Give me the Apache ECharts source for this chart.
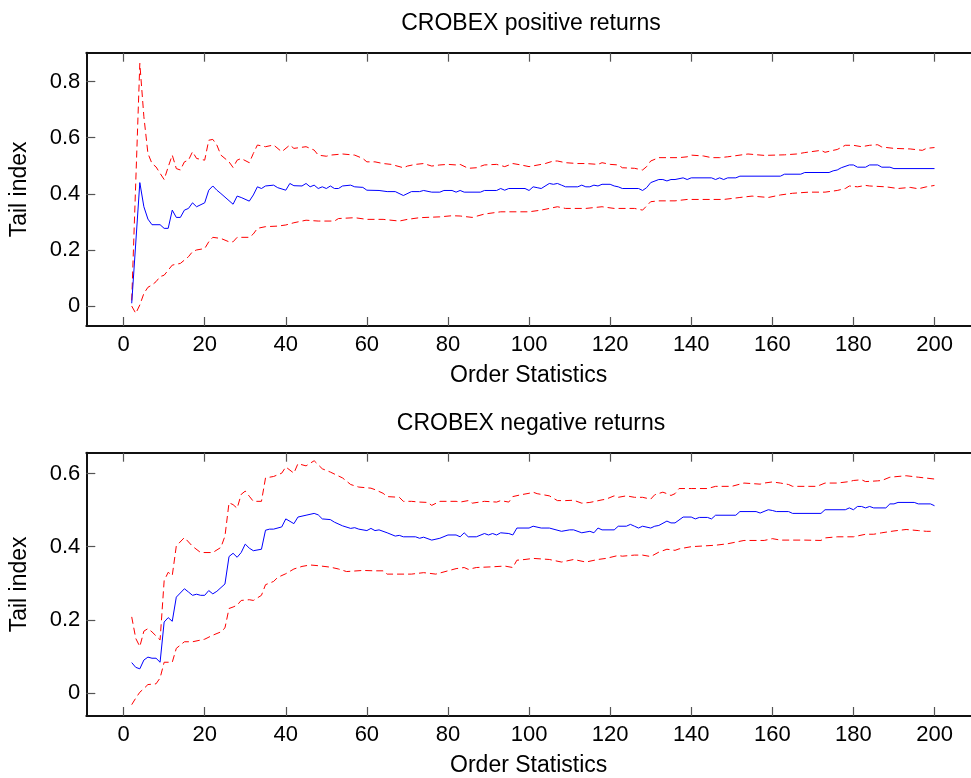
<!DOCTYPE html>
<html lang="en">
<head>
<meta charset="UTF-8" />
<title>CROBEX tail index</title>
</head>
<body>
<style>
* {
  margin: 0;
  padding: 0;
}
#chartEl {
  width: 971px;
  height: 778px;
  background-color: #fff;
}
</style>
<div id="chartEl"></div>
<script src="https://cdn.jsdelivr.net/npm/echarts@6/dist/echarts.min.js"></script>
<script>
// tick labels
const xTicks = [0, 20, 40, 60, 80, 100, 120, 140, 160, 180, 200];
const posYTicks = [0, 0.2, 0.4, 0.6, 0.8];
const negYTicks = [0, 0.2, 0.4, 0.6];

// positive returns: [order statistic, value]
const posTail = [[2,0.01],[4,0.44],[5,0.354],[6,0.31],[7,0.29],[9,0.29],[10,0.277],[11,0.277],[12,0.342],[13,0.316],[14,0.316],[15,0.342],[16,0.348],[17,0.368],[18,0.354],[20,0.368],[21,0.413],[22,0.428],[23,0.413],[24,0.401],[27,0.363],[28,0.392],[29,0.387],[31,0.374],[32,0.396],[33,0.425],[34,0.419],[35,0.428],[37,0.431],[38,0.422],[40,0.413],[41,0.437],[42,0.429],[44,0.428],[45,0.437],[46,0.425],[47,0.431],[48,0.419],[49,0.425],[50,0.419],[51,0.428],[52,0.419],[53,0.419],[54,0.428],[56,0.431],[57,0.425],[59,0.423],[60,0.413],[63,0.412],[65,0.408],[67,0.408],[69,0.394],[71,0.408],[73,0.408],[74,0.412],[76,0.406],[78,0.406],[79,0.412],[81,0.412],[82,0.406],[83,0.412],[84,0.406],[88,0.406],[89,0.412],[92,0.412],[93,0.419],[94,0.413],[95,0.419],[99,0.419],[100,0.412],[101,0.425],[102,0.422],[103,0.419],[105,0.437],[106,0.434],[107,0.437],[108,0.431],[109,0.425],[112,0.425],[113,0.431],[114,0.425],[115,0.425],[116,0.431],[117,0.428],[118,0.434],[120,0.434],[121,0.428],[122,0.425],[123,0.419],[127,0.419],[128,0.412],[129,0.422],[130,0.44],[132,0.451],[133,0.451],[134,0.446],[135,0.451],[136,0.451],[138,0.457],[139,0.451],[140,0.457],[145,0.457],[146,0.451],[147,0.457],[148,0.451],[149,0.457],[151,0.457],[152,0.463],[162,0.463],[163,0.47],[167,0.47],[168,0.476],[174,0.476],[175,0.482],[176,0.485],[177,0.493],[179,0.503],[180,0.503],[181,0.495],[183,0.495],[184,0.503],[186,0.503],[187,0.495],[189,0.495],[190,0.49],[200,0.49]];
const posUpper = [[2,0.02],[4,0.865],[5,0.675],[6,0.544],[7,0.508],[8,0.496],[9,0.473],[10,0.451],[11,0.496],[12,0.538],[13,0.49],[14,0.485],[15,0.514],[16,0.52],[17,0.55],[18,0.526],[20,0.52],[21,0.591],[22,0.594],[23,0.574],[24,0.538],[26,0.514],[27,0.494],[28,0.52],[29,0.526],[31,0.511],[32,0.544],[33,0.574],[35,0.568],[37,0.574],[39,0.55],[41,0.574],[42,0.562],[45,0.568],[47,0.556],[48,0.538],[50,0.534],[51,0.538],[54,0.542],[57,0.538],[59,0.526],[60,0.514],[62,0.514],[64,0.508],[66,0.505],[69,0.493],[70,0.499],[72,0.505],[74,0.508],[76,0.499],[78,0.503],[80,0.505],[82,0.503],[83,0.505],[85,0.491],[87,0.493],[89,0.503],[92,0.505],[94,0.497],[96,0.508],[98,0.503],[100,0.497],[103,0.505],[104,0.508],[106,0.517],[107,0.517],[109,0.511],[112,0.508],[114,0.508],[117,0.505],[118,0.511],[120,0.505],[122,0.503],[123,0.493],[126,0.491],[128,0.485],[129,0.497],[130,0.517],[132,0.529],[135,0.529],[137,0.529],[139,0.532],[140,0.538],[143,0.535],[145,0.529],[147,0.529],[149,0.532],[154,0.542],[158,0.537],[163,0.539],[166,0.542],[168,0.547],[169,0.549],[172,0.555],[173,0.548],[175,0.555],[176,0.558],[178,0.573],[180,0.573],[182,0.568],[184,0.573],[186,0.575],[187,0.567],[190,0.562],[194,0.56],[197,0.555],[198,0.562],[200,0.565]];
const posLower = [[2,0.0],[3,-0.026],[4,0.004],[5,0.045],[6,0.067],[7,0.075],[8,0.087],[9,0.105],[10,0.11],[11,0.128],[12,0.146],[14,0.152],[15,0.164],[16,0.176],[17,0.194],[18,0.2],[20,0.205],[21,0.229],[22,0.245],[24,0.241],[26,0.229],[27,0.229],[28,0.245],[31,0.245],[32,0.257],[33,0.277],[35,0.283],[38,0.285],[40,0.289],[42,0.297],[45,0.306],[48,0.303],[52,0.303],[53,0.312],[57,0.315],[60,0.309],[64,0.309],[68,0.303],[70,0.309],[73,0.315],[78,0.318],[81,0.322],[83,0.321],[86,0.316],[89,0.328],[93,0.336],[100,0.336],[103,0.342],[107,0.354],[109,0.348],[114,0.348],[118,0.354],[121,0.348],[126,0.348],[128,0.342],[130,0.372],[132,0.375],[136,0.375],[139,0.38],[148,0.38],[152,0.387],[155,0.392],[159,0.387],[162,0.396],[165,0.402],[169,0.406],[173,0.406],[176,0.412],[178,0.419],[179,0.428],[181,0.425],[183,0.43],[184,0.428],[188,0.425],[191,0.419],[194,0.423],[196,0.418],[198,0.425],[200,0.43]];

// negative returns: [order statistic, value]
const negTail = [[2,0.083],[3,0.07],[4,0.066],[5,0.09],[6,0.098],[7,0.095],[8,0.095],[9,0.084],[10,0.194],[11,0.206],[12,0.196],[13,0.262],[15,0.285],[16,0.276],[17,0.267],[18,0.27],[19,0.267],[20,0.267],[21,0.28],[22,0.271],[23,0.278],[25,0.298],[26,0.373],[27,0.382],[28,0.371],[29,0.384],[30,0.407],[31,0.396],[32,0.389],[34,0.393],[35,0.445],[36,0.448],[37,0.448],[39,0.454],[40,0.476],[42,0.463],[43,0.481],[45,0.486],[47,0.491],[48,0.487],[49,0.476],[51,0.474],[52,0.467],[54,0.457],[56,0.45],[57,0.452],[58,0.448],[60,0.444],[61,0.45],[62,0.444],[63,0.446],[65,0.438],[67,0.429],[68,0.431],[69,0.427],[72,0.427],[73,0.423],[74,0.426],[76,0.418],[78,0.423],[80,0.432],[82,0.432],[83,0.427],[84,0.438],[85,0.427],[87,0.427],[89,0.436],[90,0.432],[91,0.436],[92,0.432],[93,0.438],[95,0.436],[96,0.432],[97,0.451],[100,0.451],[101,0.456],[103,0.451],[105,0.451],[108,0.442],[110,0.446],[111,0.446],[113,0.438],[115,0.442],[116,0.438],[117,0.451],[118,0.446],[121,0.446],[122,0.456],[124,0.456],[125,0.461],[126,0.456],[127,0.451],[128,0.456],[130,0.451],[131,0.456],[132,0.458],[134,0.47],[135,0.465],[136,0.465],[138,0.481],[140,0.481],[141,0.476],[142,0.48],[144,0.48],[145,0.476],[146,0.486],[151,0.486],[152,0.496],[156,0.496],[157,0.492],[159,0.501],[160,0.499],[161,0.496],[164,0.496],[165,0.491],[172,0.491],[173,0.501],[178,0.501],[179,0.506],[180,0.501],[181,0.51],[182,0.51],[183,0.506],[184,0.51],[185,0.506],[188,0.506],[189,0.517],[190,0.517],[191,0.521],[195,0.521],[196,0.517],[199,0.517],[200,0.512]];
const negUpper = [[2,0.208],[3,0.149],[4,0.127],[5,0.169],[6,0.176],[7,0.167],[9,0.145],[10,0.307],[11,0.33],[12,0.321],[13,0.402],[15,0.425],[17,0.401],[19,0.384],[22,0.384],[24,0.398],[25,0.429],[26,0.52],[27,0.515],[28,0.505],[29,0.543],[30,0.552],[31,0.538],[32,0.524],[34,0.524],[35,0.588],[37,0.592],[39,0.601],[40,0.618],[42,0.601],[43,0.627],[45,0.621],[47,0.635],[49,0.613],[51,0.604],[54,0.588],[56,0.57],[58,0.563],[60,0.561],[61,0.56],[62,0.556],[64,0.546],[65,0.537],[68,0.535],[69,0.524],[71,0.524],[73,0.522],[75,0.521],[76,0.513],[78,0.524],[82,0.524],[83,0.522],[85,0.526],[86,0.519],[89,0.524],[92,0.522],[93,0.526],[95,0.522],[96,0.537],[98,0.542],[100,0.546],[101,0.549],[102,0.545],[105,0.539],[107,0.526],[109,0.526],[111,0.527],[113,0.519],[115,0.521],[118,0.528],[119,0.53],[121,0.539],[122,0.535],[124,0.539],[126,0.535],[128,0.535],[130,0.53],[131,0.542],[133,0.549],[134,0.545],[135,0.54],[136,0.545],[137,0.559],[140,0.559],[144,0.559],[146,0.565],[150,0.565],[153,0.574],[157,0.571],[158,0.574],[160,0.577],[162,0.574],[164,0.57],[165,0.565],[171,0.565],[173,0.574],[176,0.574],[179,0.578],[180,0.581],[182,0.583],[183,0.578],[186,0.58],[187,0.581],[189,0.59],[193,0.594],[196,0.59],[200,0.585]];
const negLower = [[2,-0.032],[3,-0.014],[4,0.002],[5,0.012],[6,0.023],[8,0.025],[9,0.041],[10,0.084],[12,0.084],[13,0.122],[15,0.14],[17,0.14],[20,0.147],[22,0.158],[24,0.167],[25,0.178],[26,0.231],[27,0.235],[28,0.24],[29,0.253],[31,0.255],[32,0.253],[34,0.267],[35,0.296],[37,0.305],[38,0.316],[40,0.326],[42,0.339],[44,0.346],[46,0.35],[48,0.348],[51,0.344],[53,0.339],[55,0.332],[59,0.335],[62,0.334],[64,0.334],[65,0.325],[71,0.325],[74,0.329],[77,0.325],[80,0.334],[82,0.34],[84,0.343],[85,0.338],[87,0.343],[91,0.345],[94,0.347],[96,0.343],[97,0.363],[99,0.365],[101,0.368],[105,0.365],[108,0.358],[111,0.365],[114,0.358],[117,0.365],[119,0.368],[122,0.376],[123,0.374],[126,0.377],[128,0.377],[130,0.373],[132,0.385],[134,0.393],[136,0.39],[137,0.394],[140,0.4],[143,0.402],[146,0.404],[149,0.408],[153,0.417],[158,0.417],[160,0.422],[162,0.418],[168,0.418],[172,0.417],[173,0.424],[176,0.427],[180,0.427],[183,0.434],[185,0.434],[187,0.438],[190,0.443],[193,0.447],[196,0.444],[198,0.442],[200,0.442]];

const FONT = 'Liberation Sans, Arial, sans-serif';
const AX = '#111';
const TICK = '#555';

function bottomX(gridIndex) {
  return {
    type: 'value', gridIndex: gridIndex, position: 'bottom',
    min: -9.2, max: 209,
    name: 'Order Statistics', nameLocation: 'middle', nameGap: 38,
    nameTextStyle: { color: '#000', fontSize: 23, fontFamily: FONT },
    axisLine: { onZero: false, lineStyle: { color: AX, width: 2 } },
    axisTick: { inside: true, length: 9, customValues: xTicks, lineStyle: { color: TICK, width: 1.2 } },
    axisLabel: { customValues: xTicks, margin: 8, color: '#000', fontSize: 22, fontFamily: FONT },
    splitLine: { show: false },
  };
}
function topX(gridIndex) {
  return {
    type: 'value', gridIndex: gridIndex, position: 'top',
    min: -9.2, max: 209,
    axisLine: { onZero: false, lineStyle: { color: AX, width: 2 } },
    axisTick: { inside: true, length: 9, customValues: xTicks, lineStyle: { color: TICK, width: 1.2 } },
    axisLabel: { show: false },
    splitLine: { show: false },
  };
}
function leftY(gridIndex, min, max, ticks) {
  return {
    type: 'value', gridIndex: gridIndex, min: min, max: max,
    name: 'Tail index', nameLocation: 'middle', nameGap: 55,
    nameTextStyle: { color: '#000', fontSize: 23, fontFamily: FONT },
    axisLine: { show: true, onZero: false, lineStyle: { color: AX, width: 2 } },
    axisTick: { show: true, inside: true, length: 9, customValues: ticks, lineStyle: { color: TICK, width: 1.2 } },
    axisLabel: { customValues: ticks, margin: 6, color: '#000', fontSize: 22, fontFamily: FONT,
      formatter: function (v) { return v === 0 ? '0' : v.toFixed(1); } },
    splitLine: { show: false },
  };
}
function line(data, xi, yi, color, dashed) {
  return {
    type: 'line', data: data, xAxisIndex: xi, yAxisIndex: yi,
    showSymbol: false, symbol: 'none', animation: false,
    lineStyle: { color: color, width: 1, type: dashed ? [7, 4] : 'solid' },
  };
}

const myChart = echarts.init(document.getElementById('chartEl'), null, { renderer: 'canvas' });
myChart.setOption({
  animation: false,
  backgroundColor: '#fff',
  grid: [
    { left: 86.3, right: -5.4, top: 52.7, height: 273.3 },
    { left: 86.3, right: -5.4, top: 452.7, height: 265.5 },
  ],
  xAxis: [bottomX(0), bottomX(1), topX(0), topX(1)],
  yAxis: [leftY(0, -0.071, 0.903, posYTicks), leftY(1, -0.063, 0.657, negYTicks)],
  graphic: [
    { type: 'text', x: 531, y: 24, style: { text: 'CROBEX positive returns', fill: '#000', fontSize: 23, fontFamily: FONT, textAlign: 'center', textVerticalAlign: 'middle' } },
    { type: 'text', x: 531, y: 424, style: { text: 'CROBEX negative returns', fill: '#000', fontSize: 23, fontFamily: FONT, textAlign: 'center', textVerticalAlign: 'middle' } },
  ],
  series: [
    line(posUpper, 0, 0, '#ff0000', true),
    line(posLower, 0, 0, '#ff0000', true),
    line(posTail, 0, 0, '#0000ff', false),
    line(negUpper, 1, 1, '#ff0000', true),
    line(negLower, 1, 1, '#ff0000', true),
    line(negTail, 1, 1, '#0000ff', false),
  ],
});
</script>
</body>
</html>
